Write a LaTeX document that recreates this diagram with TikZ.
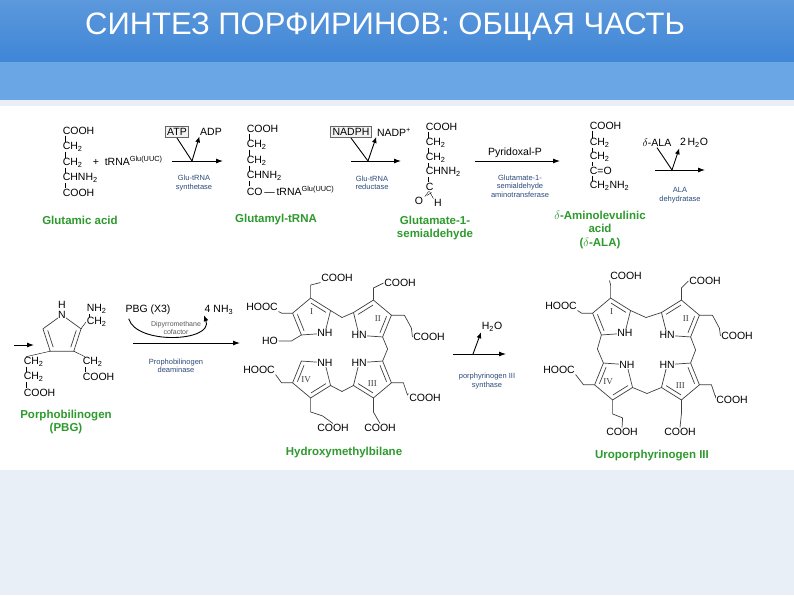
\documentclass[tikz,border=0pt]{standalone}
\usepackage{fontspec}
\setmainfont{Liberation Sans}
\newfontfamily\rmf{Liberation Serif}
\usetikzlibrary{calc,arrows.meta}
\definecolor{bandA}{HTML}{3F86D6}
\definecolor{bandB}{HTML}{6AA6E6}
\definecolor{lowbg}{HTML}{E9EFF7}
\definecolor{chemgreen}{HTML}{2E9A2E}
\definecolor{enz}{HTML}{2B4A7C}
\newcommand\sub[1]{\textsubscript{#1}}
\newcommand\cbond[2]{\draw ([xshift=3pt]#1.south west) -- ([xshift=3pt]#2.north west);}
\newcommand\pring[6]{%
  \coordinate (#1c) at (#2,#3);
  \foreach \k in {0,...,4} \coordinate (#1-\k) at ($(#1c)+(#4+72*\k:20)$);
  \draw[bond] (#1-0)--(#1-1)--(#1-2)--(#1-3)--(#1-4)--cycle;
  \draw[bond] ($(#1c)!0.75!(#1-1)$) -- ($(#1c)!0.75!(#1-2)$);
  \draw[bond] ($(#1c)!0.75!(#1-3)$) -- ($(#1c)!0.75!(#1-4)$);
  \node[chem,fill=white] (#1N) at (#1-0) {#5};
  \node[font=\rmf\fontsize{9}{9}\selectfont,text=black!75] (#1L) at ($(#1c)!0.3!(#1-3)$) {#6};
}
\tikzset{
  chem/.style={font=\fontsize{10.5}{11}\selectfont,inner sep=0.6pt},
  bond/.style={draw=black!75,line width=0.7pt},
  chemname/.style={font=\bfseries\fontsize{11.5}{13.5}\selectfont,text=chemgreen,align=center},
  enzyme/.style={font=\fontsize{7.5}{8.5}\selectfont,text=enz,align=center},
  rarrow/.style={-{Latex[length=7pt,width=5pt]},line width=0.9pt},
  boxed/.style={chem,draw=black!60,line width=0.8pt,inner sep=2pt,fill=black!5},
}
\begin{document}
\begin{tikzpicture}[x=1pt,y=-1pt]
\useasboundingbox (0,0) rectangle (794,595);
% background
\fill[lowbg] (0,0) rectangle (794,595);
\shade[top color=bandA!85!white,bottom color=bandA] (0,0) rectangle (794,62);
\fill[bandB] (0,62) rectangle (794,100);
\fill[white] (0,106) rectangle (794,470);
\node[text=white,font=\fontsize{31}{33}\selectfont] (title) at (385,27) {СИНТЕЗ ПОРФИРИНОВ: ОБЩАЯ ЧАСТЬ};

% ---- Glutamic acid
\node[chem,anchor=west] (g1) at (62,131) {COOH};
\node[chem,anchor=west] (g2) at (62,147) {CH\sub{2}};
\node[chem,anchor=west] (g3) at (62,163) {CH\sub{2}};
\node[chem,anchor=west] (g4) at (62,178) {CHNH\sub{2}};
\node[chem,anchor=west] (g5) at (62,193) {COOH};
\cbond{g1}{g2}\cbond{g2}{g3}\cbond{g3}{g4}\cbond{g4}{g5}
\node[chem,anchor=west] (trna1) at (92,161) {+ \ tRNA\textsuperscript{Glu(UUC)}};
\node[chemname] (lglu) at (80,220) {Glutamic acid};
% arrow 1
\coordinate (a1s) at (172,161); \coordinate (a1e) at (223,161);
\draw[rarrow] (a1s) -- (a1e);
\node[boxed] (atp) at (177,132) {ATP};
\node[chem] (adp) at (211,132) {ADP};
\coordinate (a1m) at (192,161);
\draw[line width=0.9pt] (atp.south) -- (a1m);
\draw[-{Latex[length=6pt,width=5pt]},line width=0.9pt] (a1m) -- (adp.south west);
\node[enzyme] (e1) at (194,183) {Glu-tRNA\\synthetase};

% ---- Glutamyl-tRNA
\node[chem,anchor=west] (t1) at (246,129) {COOH};
\node[chem,anchor=west] (t2) at (246,145) {CH\sub{2}};
\node[chem,anchor=west] (t3) at (246,161) {CH\sub{2}};
\node[chem,anchor=west] (t4) at (246,176) {CHNH\sub{2}};
\node[chem,anchor=west] (t5) at (246,191) {CO\,---\,tRNA\textsuperscript{Glu(UUC)}};
\cbond{t1}{t2}\cbond{t2}{t3}\cbond{t3}{t4}\cbond{t4}{t5}
\node[chemname] (lgt) at (276,220) {Glutamyl-tRNA};
% arrow 2
\coordinate (a2s) at (351,161); \coordinate (a2e) at (401,161);
\draw[rarrow] (a2s) -- (a2e);
\node[boxed] (nadph) at (351,132) {NADPH};
\node[chem] (nadp) at (394,132) {NADP\textsuperscript{+}};
\coordinate (a2m) at (368,161);
\draw[line width=0.9pt] (nadph.south) -- (a2m);
\draw[-{Latex[length=6pt,width=5pt]},line width=0.9pt] (a2m) -- (nadp.south west);
\node[enzyme] (e2) at (372,183) {Glu-tRNA\\reductase};

% ---- Glutamate-1-semialdehyde
\node[chem,anchor=west] (s1) at (425,127) {COOH};
\node[chem,anchor=west] (s2) at (425,143) {CH\sub{2}};
\node[chem,anchor=west] (s3) at (425,158) {CH\sub{2}};
\node[chem,anchor=west] (s4) at (425,172) {CHNH\sub{2}};
\node[chem,anchor=west] (s5) at (425,187) {C};
\cbond{s1}{s2}\cbond{s2}{s3}\cbond{s3}{s4}\cbond{s4}{s5}
\node[chem] (so) at (419,201) {O};
\node[chem] (sh) at (438,203) {H};
\draw (s5.south) -- (sh.north west);
\draw ([xshift=-1pt]s5.south) -- ([xshift=1pt]so.north east);
\draw ([xshift=1pt]s5.south) ++(1,1) -- ([xshift=3pt,yshift=1pt]so.north east);
\node[chemname] (lsa) at (435,228) {Glutamate-1-\\semialdehyde};
% arrow 3
\coordinate (a3s) at (475,161); \coordinate (a3e) at (560,161);
\draw[rarrow] (a3s) -- (a3e);
\node[chem] (pyp) at (515,153) {Pyridoxal-P};
\node[enzyme] (e3) at (520,186) {Glutamate-1-\\semialdehyde\\aminotransferase};

% ---- ALA
\node[chem,anchor=west] (l1) at (589,126) {COOH};
\node[chem,anchor=west] (l2) at (589,143) {CH\sub{2}};
\node[chem,anchor=west] (l3) at (589,157) {CH\sub{2}};
\node[chem,anchor=west] (l4) at (589,171) {C=O};
\node[chem,anchor=west] (l5) at (589,186) {CH\sub{2}NH\sub{2}};
\cbond{l1}{l2}\cbond{l2}{l3}\cbond{l3}{l4}\cbond{l4}{l5}
\node[chemname] (lala) at (600,230) {$\delta$-Aminolevulinic\\acid\\($\delta$-ALA)};
% arrow 4
\coordinate (a4s) at (655,170); \coordinate (a4e) at (705,170);
\draw[rarrow] (a4s) -- (a4e);
\node[chem] (dala) at (657,143) {$\delta$-ALA};
\node[chem] (hh) at (694,143) {2\,H\sub{2}O};
\coordinate (a4m) at (672,170);
\draw[line width=0.9pt] (dala.south) -- (a4m);
\draw[-{Latex[length=6pt,width=5pt]},line width=0.9pt] (a4m) -- (hh.south west);
\node[enzyme] (e4) at (680,195) {ALA\\dehydratase};

% ---- PBG
\coordinate (pin1) at (14,345); \coordinate (pin2) at (34,345);
\draw[rarrow] (pin1) -- (pin2);
\coordinate (Pc) at (62,335);
\foreach \k in {0,...,4} \coordinate (P-\k) at ($(Pc)+(270+72*\k:20)$);
\draw[bond] (P-0)--(P-1)--(P-2)--(P-3)--(P-4)--cycle;
\draw[bond] ($(Pc)!0.75!(P-1)$) -- ($(Pc)!0.75!(P-2)$);
\draw[bond] ($(Pc)!0.75!(P-3)$) -- ($(Pc)!0.75!(P-4)$);
\node[chem,fill=white] (PN) at (P-0) {N};
\node[chem] (PH) at (62,305) {H};
\node[chem,anchor=west] (pnh) at (86,309) {NH\sub{2}};
\node[chem,anchor=west] (pch) at (86,322) {CH\sub{2}};
\draw (P-1) -- (pch.west);
\cbond{pnh}{pch}
\node[chem,anchor=west] (pr1) at (82,362) {CH\sub{2}};
\node[chem,anchor=west] (pr2) at (82,377) {COOH};
\draw (P-2) -- ([xshift=3pt]pr1.north west);
\cbond{pr1}{pr2}
\node[chem,anchor=west] (pl1) at (23,362) {CH\sub{2}};
\node[chem,anchor=west] (pl2) at (23,377) {CH\sub{2}};
\node[chem,anchor=west] (pl3) at (23,393) {COOH};
\draw (P-3) -- ([xshift=3pt]pl1.north west);
\cbond{pl1}{pl2}\cbond{pl2}{pl3}
\node[chemname] (lpbg) at (66,422) {Porphobilinogen\\(PBG)};
% arrow 5
\coordinate (a5s) at (133,343); \coordinate (a5e) at (240,343);
\draw[rarrow] (a5s) -- (a5e);
\node[chem] (pbg3) at (148,310) {PBG (X3)};
\node[chem] (nh4) at (219,310) {4 NH\sub{3}};
\draw[-{Latex[length=6pt,width=5pt]},line width=0.9pt] (pbg3.south west) ++(4,3) .. controls (136,345) and (214,342) .. (nh4.south west);
\node[font=\fontsize{7}{8}\selectfont,text=black!65,align=center] (dpm) at (176,328) {Dipyrromethane\\cofactor};
\node[enzyme] (e5) at (176,366) {Prophobilinogen\\deaminase};

% ---- Hydroxymethylbilane
\pring{A}{312}{318}{50}{NH}{I}
\pring{B}{372}{320}{130}{HN}{II}
\pring{C}{372}{378}{230}{HN}{III}
\pring{D}{312}{378}{310}{NH}{IV}
\draw[bond] (A-4) -- ($(A-4)!0.5!(B-1)+(0,6)$) -- (B-1);
\draw[bond] (B-4) -- ($(B-4)!0.5!(C-1)+(5,0)$) -- (C-1);
\draw[bond] (C-4) -- ($(C-4)!0.5!(D-1)+(0,6)$) -- (D-1);
\node[chem] (h1) at (337,278) {COOH};
\node[chem] (h2) at (400,283) {COOH};
\node[chem] (h3) at (262,307) {HOOC};
\node[chem] (h4) at (270,341) {HO};
\node[chem] (h5) at (429,337) {COOH};
\node[chem] (h6) at (259,370) {HOOC};
\node[chem] (h7) at (425,398) {COOH};
\node[chem] (h8) at (333,428) {COOH};
\node[chem] (h9) at (380,428) {COOH};
\draw[bond] (A-3) -- ++(0,-13) -- (h1.south west);
\draw[bond] (A-2) -- ++(-11,0) -- (h3.south east);
\draw[bond] (A-1) -- ++(-10,6) -- (h4.east);
\draw[bond] (B-2) -- ++(0,-12) -- (h2.west);
\draw[bond] (B-3) -- ++(13,0) -- ++(7,13) -- (h5.west);
\draw[bond] (C-2) -- ++(12,0) -- ++(4,12) -- (h7.north west);
\draw[bond] (C-3) -- ++(0,14) -- (h9.north);
\draw[bond] (D-3) -- ++(-11,0) -- (h6.south east);
\draw[bond] (D-2) -- ++(0,14) -- ++(12,4) -- (h8.north);
\node[chemname] (lhmb) at (344,453) {Hydroxymethylbilane};

% arrow 6
\coordinate (a6s) at (453,354); \coordinate (a6e) at (506,354);
\draw[rarrow] (a6s) -- (a6e);
\node[chem] (h2o) at (492,327) {H\sub{2}O};
\coordinate (a6m) at (473,354);
\draw[-{Latex[length=6pt,width=5pt]},line width=0.9pt] (a6m) -- (h2o.south west);
\node[enzyme] (e6) at (487,381) {porphyrinogen III\\synthase};

% ---- Uroporphyrinogen III
\pring{E}{612}{318}{50}{NH}{I}
\pring{F}{680}{320}{130}{HN}{II}
\pring{G}{680}{380}{230}{HN}{III}
\pring{H}{614}{380}{310}{NH}{IV}
\draw[bond] (E-4) -- ($(E-4)!0.5!(F-1)+(0,6)$) -- (F-1);
\draw[bond] (F-4) -- ($(F-4)!0.5!(G-1)+(5,0)$) -- (G-1);
\draw[bond] (G-4) -- ($(G-4)!0.5!(H-1)+(0,6)$) -- (H-1);
\draw[bond] (H-4) -- ($(H-4)!0.5!(E-1)+(-5,0)$) -- (E-1);
\node[chem] (u1) at (626,276) {COOH};
\node[chem] (u2) at (705,281) {COOH};
\node[chem] (u3) at (561,306) {HOOC};
\node[chem] (u5) at (737,336) {COOH};
\node[chem] (u6) at (559,370) {HOOC};
\node[chem] (u7) at (732,400) {COOH};
\node[chem] (u8) at (622,432) {COOH};
\node[chem] (u9) at (680,432) {COOH};
\draw[bond] (E-3) -- ++(0,-13) -- (u1.south west);
\draw[bond] (E-2) -- ++(-11,0) -- (u3.south east);
\draw[bond] (F-2) -- ++(0,-12) -- (u2.west);
\draw[bond] (F-3) -- ++(13,0) -- ++(7,13) -- (u5.west);
\draw[bond] (G-2) -- ++(12,0) -- ++(4,12) -- (u7.north west);
\draw[bond] (G-3) -- ++(0,14) -- (u9.north);
\draw[bond] (H-3) -- ++(-11,0) -- (u6.south east);
\draw[bond] (H-2) -- ++(0,14) -- ++(10,4) -- (u8.north);
\node[chemname] (luro) at (652,456) {Uroporphyrinogen III};
\end{tikzpicture}
\end{document}
